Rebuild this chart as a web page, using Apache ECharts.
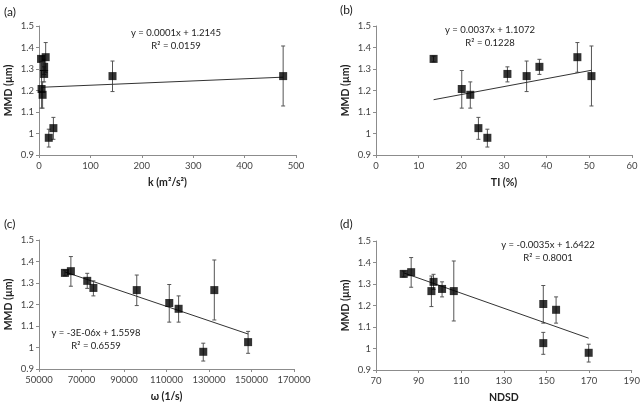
<!DOCTYPE html>
<html>
<head>
<meta charset="utf-8">
<script src="https://cdn.jsdelivr.net/npm/echarts@6/dist/echarts.min.js"></script>
<style>
  html, body { margin: 0; padding: 0; background: #fff; }
  #chart { width: 643px; height: 410px; }
</style>
</head>
<body>
<div id="chart"></div>
<script>
// MMD (µm) of the 10 runs, with error bar limits
const mmd     = [1.347, 1.355, 1.310, 1.277, 1.267, 1.267, 1.207, 1.180, 1.025, 0.980];
const mmdLow  = [1.333, 1.285, 1.275, 1.240, 1.195, 1.128, 1.118, 1.118, 0.973, 0.937];
const mmdHigh = [1.360, 1.423, 1.345, 1.310, 1.337, 1.407, 1.293, 1.240, 1.075, 1.020];

// x variables for each panel
const kVals    = [4, 13, 10, 10, 143, 475, 5, 7, 28, 19];
const tiVals   = [13.5, 47.2, 38.3, 30.8, 35.3, 50.5, 20.1, 22.1, 24.0, 26.1];
const omegaVals = [62200, 65000, 72700, 75600, 96000, 132500, 111300, 115700, 148400, 127300];
const ndsdVals = [83.0, 86.5, 97.0, 101.0, 96.0, 106.5, 148.5, 154.5, 148.5, 169.8];

// trendline coefficients as printed (c slope is shown rounded, use fitted value)
const trendSlope = [0.0001, 0.0037, -3.35e-6, -0.0035];
const trendIntercept = [1.2145, 1.1072, 1.5598, 1.6422];
const eqText = [
    ['y = 0.0001x + 1.2145', 'R² = 0.0159'],
    ['y = 0.0037x + 1.1072', 'R² = 0.1228'],
    ['y = -3E-06x + 1.5598', 'R² = 0.6559'],
    ['y = -0.0035x + 1.6422', 'R² = 0.8001']
];
const panelLabels = ['(a)', '(b)', '(c)', '(d)'];
const xNames = ['k (m²/s²)', 'TI (%)', 'ω (1/s)', 'NDSD'];
const xMin = [0, 0, 50000, 70];
const xMax = [500, 60, 170000, 190];
const xStep = [100, 10, 20000, 20];

const FONT = 'Lato, "Open Sans", sans-serif';
const xData = [kVals, tiVals, omegaVals, ndsdVals];

const grids = [
    { left: 39, top: 26, width: 257, height: 129 },
    { left: 376, top: 26, width: 256, height: 129 },
    { left: 39, top: 240, width: 255, height: 129 },
    { left: 376, top: 241, width: 256, height: 129 }
];

const axisLineStyle = { color: '#8c8c8c', width: 1 };

const xAxes = grids.map((g, i) => ({
    gridIndex: i,
    type: 'value',
    min: xMin[i], max: xMax[i], interval: xStep[i],
    name: xNames[i],
    nameLocation: 'middle',
    nameGap: 22,
    nameTextStyle: { fontFamily: FONT, fontWeight: 'bold', fontSize: 10.5, color: '#222' },
    axisLine: { show: true, onZero: false, lineStyle: axisLineStyle },
    axisTick: { show: true, length: 3, lineStyle: axisLineStyle },
    axisLabel: { fontFamily: FONT, fontSize: 9.5, color: '#444', margin: 6, formatter: v => String(v) },
    splitLine: { show: false }
}));

const yAxes = grids.map((g, i) => ({
    gridIndex: i,
    type: 'value',
    min: 0.9, max: 1.5, interval: 0.1,
    name: 'MMD (µm)',
    nameLocation: 'middle',
    nameGap: 25,
    nameTextStyle: { fontFamily: FONT, fontWeight: 'bold', fontSize: 10.5, color: '#222' },
    axisLine: { show: true, onZero: false, lineStyle: axisLineStyle },
    axisTick: { show: true, length: 3, lineStyle: axisLineStyle },
    axisLabel: {
        fontFamily: FONT, fontSize: 9.5, color: '#444', margin: 5,
        formatter: v => String(Math.round(v * 10) / 10)
    },
    splitLine: { show: false }
}));

const series = [];
xData.forEach((xs, i) => {
    // error bars
    series.push({
        type: 'custom',
        xAxisIndex: i, yAxisIndex: i,
        silent: true,
        z: 2,
        data: xs.map((x, j) => [x, mmdLow[j], mmdHigh[j]]),
        renderItem: (params, api) => {
            const lo = api.coord([api.value(0), api.value(1)]);
            const hi = api.coord([api.value(0), api.value(2)]);
            const cap = 2;
            const style = { stroke: '#555', lineWidth: 1, fill: null };
            return {
                type: 'group',
                children: [
                    { type: 'line', shape: { x1: lo[0], y1: lo[1], x2: hi[0], y2: hi[1] }, style },
                    { type: 'line', shape: { x1: lo[0] - cap, y1: lo[1], x2: lo[0] + cap, y2: lo[1] }, style },
                    { type: 'line', shape: { x1: hi[0] - cap, y1: hi[1], x2: hi[0] + cap, y2: hi[1] }, style }
                ]
            };
        },
        encode: { x: 0, y: [1, 2] }
    });
    // trendline over the data range
    const lo = Math.min(...xs), hi = Math.max(...xs);
    series.push({
        type: 'line',
        xAxisIndex: i, yAxisIndex: i,
        symbol: 'none',
        silent: true,
        z: 3,
        lineStyle: { color: '#333', width: 1 },
        data: [[lo, trendIntercept[i] + trendSlope[i] * lo], [hi, trendIntercept[i] + trendSlope[i] * hi]]
    });
    // markers
    series.push({
        type: 'scatter',
        xAxisIndex: i, yAxisIndex: i,
        symbol: 'rect',
        symbolSize: 8,
        z: 4,
        itemStyle: { color: '#000' },
        data: xs.map((x, j) => [x, mmd[j]])
    });
});

// panel labels and equations
const eqPos = [[176, 33], [490, 30], [96, 333], [548, 245]];
const labelPos = [[4, 6], [340, 4], [4, 218], [340, 218]];
const graphic = [];
panelLabels.forEach((t, i) => {
    graphic.push({
        type: 'text', left: labelPos[i][0], top: labelPos[i][1],
        style: { text: t, font: '12px ' + FONT, fill: '#222' }
    });
    eqText[i].forEach((line, k) => {
        graphic.push({
            type: 'text', x: eqPos[i][0], y: eqPos[i][1] + k * 13,
            style: { text: line, font: '9.5px ' + FONT, fill: '#222', textAlign: 'center', textVerticalAlign: 'middle' }
        });
    });
});

const chart = echarts.init(document.getElementById('chart'));
chart.setOption({
    animation: false,
    backgroundColor: '#fff',
    grid: grids,
    xAxis: xAxes,
    yAxis: yAxes,
    series: series,
    graphic: graphic
});
</script>
</body>
</html>
